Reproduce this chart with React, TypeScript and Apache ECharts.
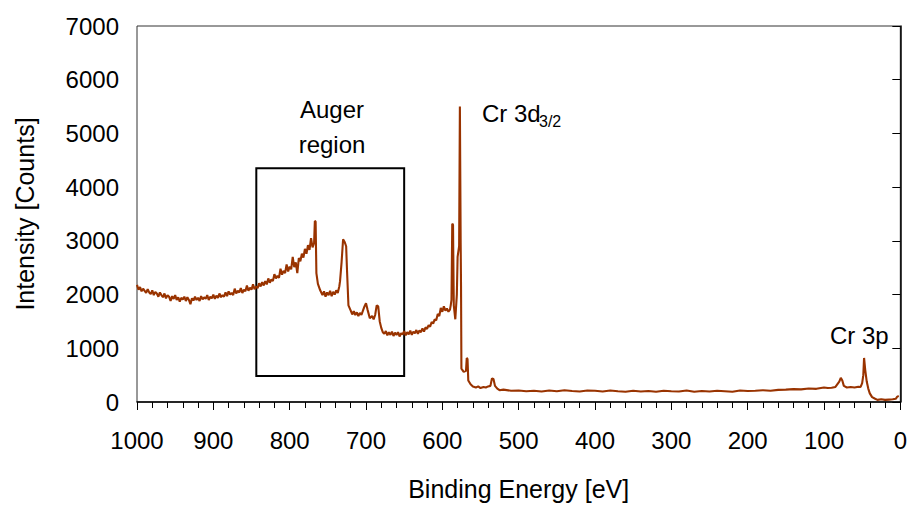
import React, { useEffect, useRef } from "react";
import * as echarts from "echarts";

// Spectrum: [binding energy (eV), intensity (counts)]
const backgroundHigh: [number, number][] = [
  [1000, 2180], [998, 2090], [996, 2140], [994, 2060], [992, 2110], [990, 2070], [988, 2030], [986, 2100],
  [984, 2040], [982, 2010], [980, 2080], [978, 1990], [976, 2050], [974, 2020], [972, 1960], [970, 2040],
  [968, 1990], [966, 1950], [964, 2020], [962, 1930], [960, 1990], [958, 1960], [956, 1880], [954, 1970],
  [952, 1920], [950, 1990], [948, 1900], [946, 1950], [944, 1870], [942, 1940], [940, 1910], [938, 1960],
  [936, 1880], [934, 1950], [932, 1900], [930, 1820], [928, 1930], [926, 1890], [924, 1960], [922, 1900],
  [920, 1940], [918, 1880], [916, 1970], [914, 1910], [912, 1950], [910, 1920], [908, 1990], [906, 1900],
  [904, 1960], [902, 1930], [900, 2000], [898, 1920], [896, 1980], [894, 1940], [892, 2020], [890, 1950],
  [888, 1990], [886, 1960], [884, 2040], [882, 1970], [880, 2060], [878, 2000], [876, 2030], [874, 1990],
  [872, 2110], [870, 2020], [868, 2070], [866, 2040], [864, 2120], [862, 2030], [860, 2090], [858, 2060],
  [856, 2170], [854, 2070], [852, 2130], [850, 2090], [848, 2190], [846, 2100], [844, 2150], [842, 2120],
  [840, 2210],
];

const augerSegment: [number, number][] = [
  [838, 2150], [836, 2230], [834, 2170], [832, 2250], [830, 2190], [828, 2300], [826, 2220], [824, 2280],
  [822, 2250], [820, 2380], [818, 2300], [816, 2350], [814, 2310], [812, 2480], [810, 2370], [808, 2440],
  [806, 2400], [804, 2560], [802, 2430], [800, 2520], [798, 2470], [796, 2700], [794, 2510], [792, 2600],
  [790, 2400], [788, 2680], [786, 2620], [784, 2760], [782, 2690], [780, 2850], [778, 2760], [776, 2920],
  [774, 2830], [772, 3050], [770, 2880], [768, 2960], [767, 3370], [766, 3360], [765, 2400], [763, 2200],
  [760, 2080], [757, 1990], [755, 2060], [753, 1960], [751, 2040], [749, 1990], [747, 2070], [745, 1970],
  [743, 2050], [741, 2000], [739, 2080], [737, 2030], [735, 2150], [734, 2250], [732, 2600], [730, 3030],
  [728, 2980], [726, 2900], [725, 2500], [723, 1800], [720, 1700], [718, 1630], [716, 1690], [714, 1620],
  [712, 1670], [710, 1600], [708, 1660], [706, 1620], [704, 1700], [702, 1780], [700, 1840], [698, 1720],
  [695, 1560], [692, 1600], [690, 1540], [688, 1620], [686, 1800], [684, 1780], [682, 1500], [680, 1380],
  [678, 1300], [676, 1270], [674, 1320], [672, 1240], [670, 1300], [668, 1250], [666, 1310], [664, 1230],
  [662, 1290], [660, 1250], [658, 1300], [656, 1220], [654, 1280], [652, 1260], [650, 1320], [648, 1240],
  [646, 1300], [644, 1260], [642, 1330], [640, 1250], [638, 1310], [636, 1280], [634, 1340], [632, 1270],
  [630, 1330], [628, 1300], [626, 1370], [624, 1310], [622, 1390], [620, 1360], [618, 1430], [616, 1400],
  [614, 1490], [612, 1460], [610, 1540], [608, 1520], [606, 1640], [604, 1600], [602, 1750], [600, 1680],
  [598, 1780], [596, 1700], [594, 1740], [592, 1680], [590, 1720],
];

const cr3dSegment: [number, number][] = [
  [589, 1800], [588, 1900], [587, 3320], [586, 3300], [585, 1800], [583, 1540], [581, 2000], [580, 2700],
  [578, 2900], [577, 5500], [576, 3000], [575.5, 2150], [575, 620], [572, 560], [569, 580], [568, 820],
  [567, 800], [566, 400], [563, 330], [560, 290], [556, 270], [553, 290], [550, 260], [546, 280],
  [543, 270], [540, 290], [537, 300], [535, 440], [533, 430], [531, 300], [528, 250], [525, 220],
];

const flatSegment: [number, number][] = [
  [520, 230], [510, 210], [500, 215], [490, 200], [480, 210], [470, 195], [460, 215], [450, 200],
  [440, 220], [430, 205], [420, 195], [410, 215], [400, 210], [390, 195], [380, 215], [370, 200],
  [360, 190], [350, 210], [340, 195], [330, 205], [320, 190], [310, 210], [300, 200], [290, 195],
  [280, 215], [270, 190], [260, 205], [250, 195], [240, 210], [230, 200], [220, 190], [210, 215],
  [200, 205], [190, 210], [180, 220], [170, 210], [160, 225], [150, 230], [140, 240], [130, 235],
  [120, 250], [110, 245], [100, 270], [95, 260], [90, 265], [85, 280],
];

const cr3pSegment: [number, number][] = [
  [80, 380], [78, 450], [76, 400], [74, 300], [70, 270], [65, 280], [60, 270], [55, 285],
  [52, 280], [50, 350], [48.5, 500], [47.5, 820], [46, 600], [44, 380], [42, 250], [40, 160],
  [37, 90], [33, 60], [30, 40], [25, 50], [20, 40], [15, 45], [10, 50], [6, 60], [4, 100], [2, 110],
];

const xTicks: number[] = [0, 100, 200, 300, 400, 500, 600, 700, 800, 900, 1000];
const yTicks: number[] = [0, 1000, 2000, 3000, 4000, 5000, 6000, 7000];

// Auger region box corners: [energy, intensity]
const augerBox: [number, number][] = [
  [843.7, 4354],
  [650, 483],
];

const FONT = "'Liberation Sans', Arial, sans-serif";

export default function App() {
  const ref = useRef<HTMLDivElement>(null);

  useEffect(() => {
    if (!ref.current) return;
    const chart = echarts.init(ref.current, null, { renderer: "svg" });
    const data = [...backgroundHigh, ...augerSegment, ...cr3dSegment, ...flatSegment, ...cr3pSegment];

    chart.setOption({
      animation: false,
      backgroundColor: "#ffffff",
      grid: {
        left: 137,
        right: 9,
        top: 26,
        bottom: 99,
        show: true,
        borderColor: "#333333",
        borderWidth: 1,
        containLabel: false,
      },
      xAxis: {
        type: "value",
        inverse: true,
        min: xTicks[0],
        max: xTicks[xTicks.length - 1],
        interval: 100,
        name: "Binding Energy [eV]",
        nameLocation: "middle",
        nameGap: 74,
        nameTextStyle: { fontFamily: FONT, fontSize: 25, color: "#000" },
        axisLine: { show: true, onZero: false, lineStyle: { color: "#000", width: 1.5 } },
        axisTick: { show: true, inside: false, length: 8, lineStyle: { color: "#000" } },
        minorTick: { show: true, splitNumber: 5, length: 6, lineStyle: { color: "#000" } },
        axisLabel: {
          fontFamily: FONT,
          fontSize: 24,
          color: "#000",
          margin: 26,
          formatter: (v: number) => String(v),
        },
        splitLine: { show: false },
      },
      yAxis: {
        type: "value",
        min: yTicks[0],
        max: yTicks[yTicks.length - 1],
        interval: 1000,
        name: "Intensity [Counts]",
        nameLocation: "middle",
        nameGap: 100,
        nameTextStyle: { fontFamily: FONT, fontSize: 25, color: "#000" },
        axisLine: { show: true, lineStyle: { color: "#000", width: 1.5 } },
        axisTick: { show: true, inside: false, length: 8, lineStyle: { color: "#000" } },
        axisLabel: {
          fontFamily: FONT,
          fontSize: 24,
          color: "#000",
          margin: 18,
          formatter: (v: number) => String(v),
        },
        splitLine: { show: false },
      },
      series: [
        {
          type: "line",
          data,
          showSymbol: false,
          symbol: "none",
          lineStyle: { color: "#993300", width: 2.1 },
          itemStyle: { color: "#993300" },
          markArea: {
            silent: true,
            itemStyle: { color: "rgba(0,0,0,0)", borderColor: "#000", borderWidth: 2 },
            label: { show: false },
            data: [[{ coord: augerBox[0] }, { coord: augerBox[1] }]],
          },
        },
      ],
      graphic: [
        {
          type: "text",
          x: 332,
          y: 109,
          style: { text: "Auger", fontFamily: FONT, fontSize: 24, fill: "#000", align: "center", verticalAlign: "middle" },
        },
        {
          type: "text",
          x: 332,
          y: 144,
          style: { text: "region", fontFamily: FONT, fontSize: 24, fill: "#000", align: "center", verticalAlign: "middle" },
        },
        {
          type: "text",
          x: 482,
          y: 113,
          style: { text: "Cr 3d", fontFamily: FONT, fontSize: 24, fill: "#000", align: "left", verticalAlign: "middle" },
        },
        {
          type: "text",
          x: 539,
          y: 121,
          style: { text: "3/2", fontFamily: FONT, fontSize: 16, fill: "#000", align: "left", verticalAlign: "middle" },
        },
        {
          type: "text",
          x: 830,
          y: 335,
          style: { text: "Cr 3p", fontFamily: FONT, fontSize: 24, fill: "#000", align: "left", verticalAlign: "middle" },
        },
      ],
    });

    return () => chart.dispose();
  }, []);

  return <div ref={ref} style={{ width: 910, height: 506, position: "absolute", left: 0, top: 0 }} />;
}
